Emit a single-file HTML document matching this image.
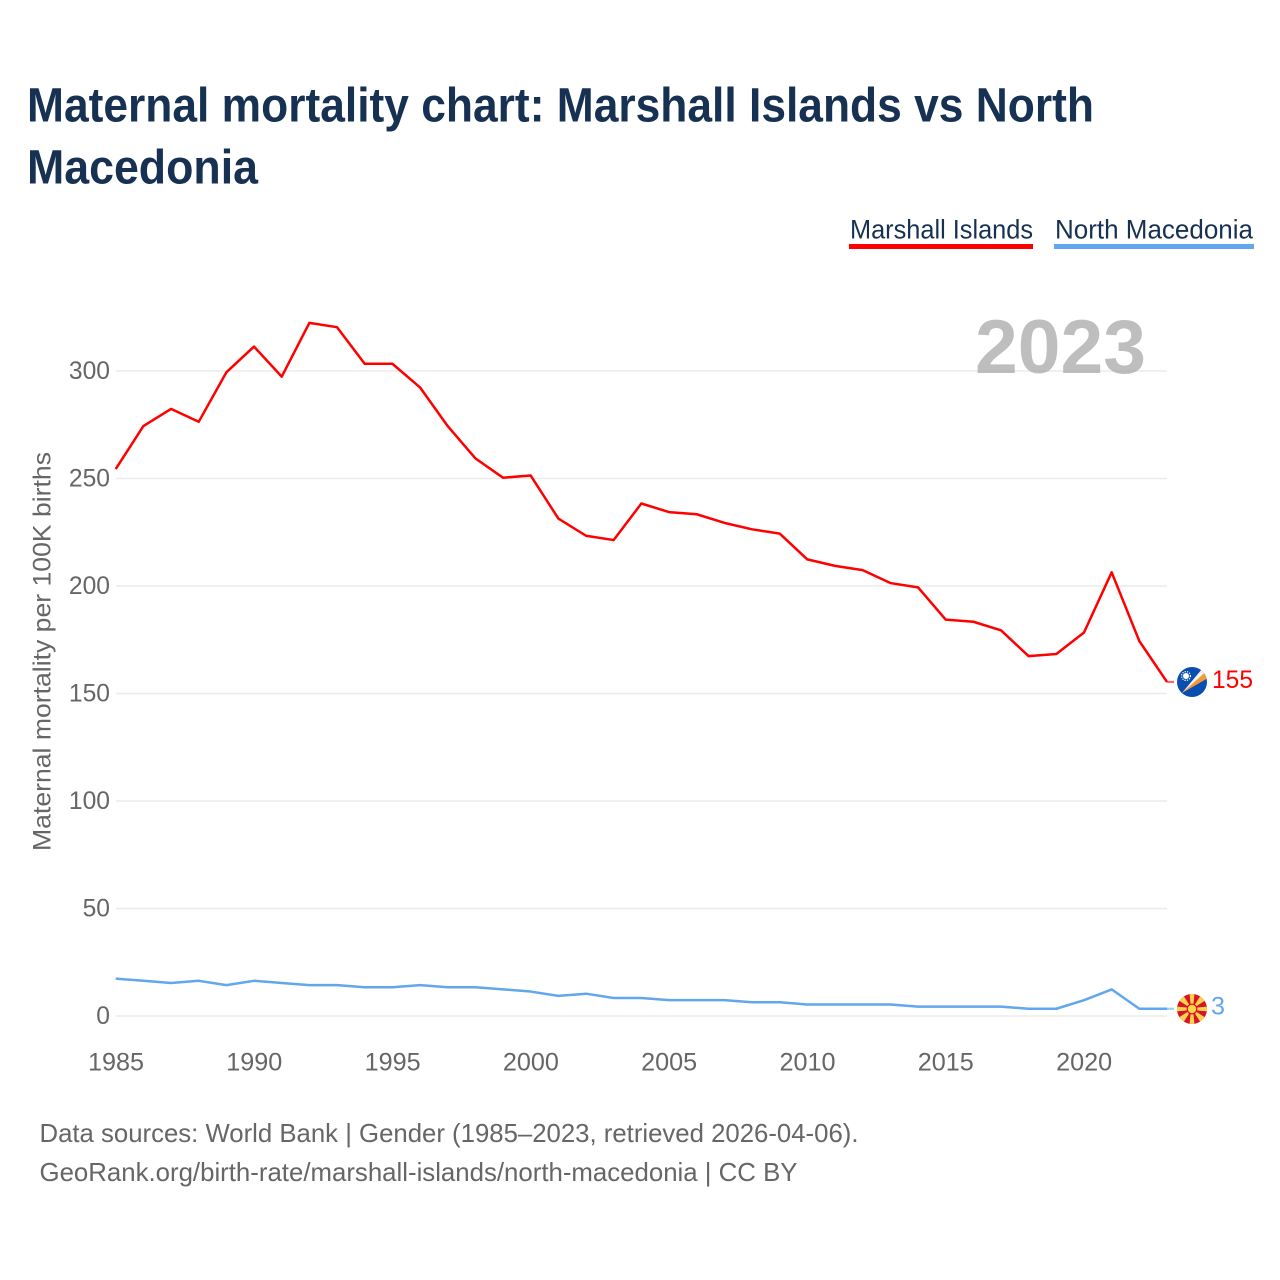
<!DOCTYPE html>
<html lang="en">
<head>
<meta charset="utf-8">
<title>Maternal mortality chart: Marshall Islands vs North Macedonia</title>
<style>
html,body{margin:0;padding:0;background:#fff;width:1280px;height:1280px;overflow:hidden}
svg{display:block;font-family:"Liberation Sans",sans-serif}
</style>
</head>
<body>
<svg id="chart" width="1280" height="1280" viewBox="0 0 1280 1280" xmlns="http://www.w3.org/2000/svg">
  <rect x="0" y="0" width="1280" height="1280" fill="#fff"/>
  <text x="27" y="121.5" font-size="48" font-weight="700" fill="#163152" textLength="1067" lengthAdjust="spacingAndGlyphs">Maternal mortality chart: Marshall Islands vs North</text>
  <text x="27" y="183.5" font-size="48" font-weight="700" fill="#163152" textLength="231" lengthAdjust="spacingAndGlyphs">Macedonia</text>

  <g>
    <text x="850" y="238.5" font-size="27" fill="#163152" textLength="183" lengthAdjust="spacingAndGlyphs">Marshall Islands</text>
    <rect x="849" y="244" width="184" height="5" fill="#ff0000"/>
  </g>
  <g>
    <text x="1055" y="238.5" font-size="27" fill="#163152" textLength="198" lengthAdjust="spacingAndGlyphs">North Macedonia</text>
    <rect x="1054" y="244" width="200" height="5" fill="#62a6ee"/>
  </g>

  <g id="grid"></g>
  <text x="975" y="373" font-size="76" font-weight="700" fill="#a8a8a8" fill-opacity="0.75" textLength="171" lengthAdjust="spacingAndGlyphs">2023</text>
  <g id="yticks"></g>
  <g id="xticks"></g>
  <text transform="translate(50.5,851) rotate(-90)" x="0" y="0" font-size="25" fill="#666" textLength="399" lengthAdjust="spacingAndGlyphs">Maternal mortality per 100K births</text>

  <g id="series"></g>

  <defs>
    <clipPath id="flag-clip-mh"><circle cx="1192" cy="682" r="15"/></clipPath>
    <clipPath id="flag-clip-mk"><circle cx="1192" cy="1009" r="15"/></clipPath>
  </defs>
  <g clip-path="url(#flag-clip-mh)">
    <rect x="1177" y="667" width="30" height="30" fill="#0a4fb0"/>
    <polygon points="1182,693 1202,669 1206,673.5" fill="#f2f2f2"/>
    <polygon points="1182,693 1205,672.5 1208,678" fill="#f29a38"/>
    <circle cx="1186" cy="676" r="3" fill="#fff"/>
    <circle cx="1186" cy="676" r="4.4" fill="none" stroke="#fff" stroke-width="1.2" stroke-dasharray="1.2 1.2"/>
  </g>
  <g id="mk-flag" clip-path="url(#flag-clip-mk)">
    <rect x="1177" y="994" width="30" height="30" fill="#d8122a"/>
    <polygon points="1191,1009 1193,1009 1194.5,993 1189.5,993" fill="#f9d44a"/>
    <polygon points="1191,1009 1193,1009 1194.5,1025 1189.5,1025" fill="#f9d44a"/>
    <polygon points="1192,1008 1192,1010 1208,1011.5 1208,1006.5" fill="#f9d44a"/>
    <polygon points="1192,1008 1192,1010 1176,1011.5 1176,1006.5" fill="#f9d44a"/>
    <polygon points="1192,1009 1201,995 1206,1000" fill="#f9d44a"/>
    <polygon points="1192,1009 1206,1018 1201,1023" fill="#f9d44a"/>
    <polygon points="1192,1009 1183,1023 1178,1018" fill="#f9d44a"/>
    <polygon points="1192,1009 1178,1000 1183,995" fill="#f9d44a"/>
    <circle cx="1192" cy="1009" r="5.4" fill="#d8122a"/>
    <circle cx="1192" cy="1009" r="4.2" fill="#f9d44a"/>
  </g>

  <text id="end-label-a" x="1212" y="688" font-size="25" fill="#ff0000" textLength="41" lengthAdjust="spacingAndGlyphs"></text>
  <text id="end-label-b" x="1211" y="1014.5" font-size="25" fill="#62a6ee" textLength="14" lengthAdjust="spacingAndGlyphs"></text>

  <text x="39.5" y="1142" font-size="26" fill="#666" textLength="819" lengthAdjust="spacingAndGlyphs">Data sources: World Bank | Gender (1985–2023, retrieved 2026-04-06).</text>
  <text x="39.5" y="1181" font-size="26" fill="#666" textLength="758" lengthAdjust="spacingAndGlyphs">GeoRank.org/birth-rate/marshall-islands/north-macedonia | CC BY</text>
</svg>
<script>
var years = [1985,1986,1987,1988,1989,1990,1991,1992,1993,1994,1995,1996,1997,1998,1999,2000,2001,2002,2003,2004,2005,2006,2007,2008,2009,2010,2011,2012,2013,2014,2015,2016,2017,2018,2019,2020,2021,2022,2023];
var marshallIslands = [254,274,282,276,299,311,297,322,320,303,303,292,274,259,250,251,231,223,221,238,234,233,229,226,224,212,209,207,201,199,184,183,179,167,168,178,206,174,155];
var northMacedonia = [17,16,15,16,14,16,15,14,14,13,13,14,13,13,12,11,9,10,8,8,7,7,7,6,6,5,5,5,5,4,4,4,4,3,3,7,12,3,3];
var yTickValues = [0,50,100,150,200,250,300];
var xTickValues = [1985,1990,1995,2000,2005,2010,2015,2020];

var SVG_NS = 'http://www.w3.org/2000/svg';
function xScale(year){ return 115.7 + (year - 1985) * (1167 - 115.7) / 38; }
function yScale(v){ return 1016 - v * 2.15; }
function lineY(v){ return yScale(v) - 0.8; }
function make(tag, attrs, parent){
  var el = document.createElementNS(SVG_NS, tag);
  for (var k in attrs) el.setAttribute(k, attrs[k]);
  parent.appendChild(el);
  return el;
}

var grid = document.getElementById('grid');
var yticks = document.getElementById('yticks');
var xticks = document.getElementById('xticks');
var series = document.getElementById('series');

yTickValues.forEach(function(v){
  var line = make('line', {x1:116, x2:1167, y1:yScale(v), y2:yScale(v), stroke:'#ebebeb', 'stroke-width':1.6}, grid);
  
  
  var t = make('text', {x:110, y:yScale(v) + 8, 'text-anchor':'end', 'font-size':25, fill:'#666'}, yticks);
  
  
  t.textContent = String(v);
  var digits = String(v).length;
  t.setAttribute('textLength', digits * 13.7);
  t.setAttribute('lengthAdjust', 'spacingAndGlyphs');
});

xTickValues.forEach(function(y){
  var t = make('text', {x:116 + (y - 1985) * 27.66, y:1070.5, 'text-anchor':'middle', 'font-size':25, fill:'#666'}, xticks);
  
  
  t.textContent = String(y);
  t.setAttribute('textLength', 56);
  t.setAttribute('lengthAdjust', 'spacingAndGlyphs');
});

function pathFor(values){
  return values.map(function(v, i){
    return (i ? 'L' : 'M') + xScale(years[i]).toFixed(2) + ' ' + lineY(v).toFixed(2);
  }).join(' ');
}
function drawSeries(values, color, name){
  var last = values[values.length - 1];
  var lastX = xScale(years[years.length - 1]);
  var connector = make('line', {x1:lastX, x2:lastX + 7, y1:lineY(last), y2:lineY(last), stroke:color, 'stroke-width':2.2, 'stroke-opacity':0.6}, series);
  
  
  var p = make('path', {d:pathFor(values), fill:'none', stroke:color, 'stroke-width':2.5, 'stroke-linejoin':'round'}, series);
  
  
}
drawSeries(marshallIslands, '#ff0000', 'marshall-islands');
drawSeries(northMacedonia, '#62a6ee', 'north-macedonia');

document.getElementById('end-label-a').textContent = String(marshallIslands[marshallIslands.length - 1]);
document.getElementById('end-label-b').textContent = String(northMacedonia[northMacedonia.length - 1]);
</script>
</body>
</html>
